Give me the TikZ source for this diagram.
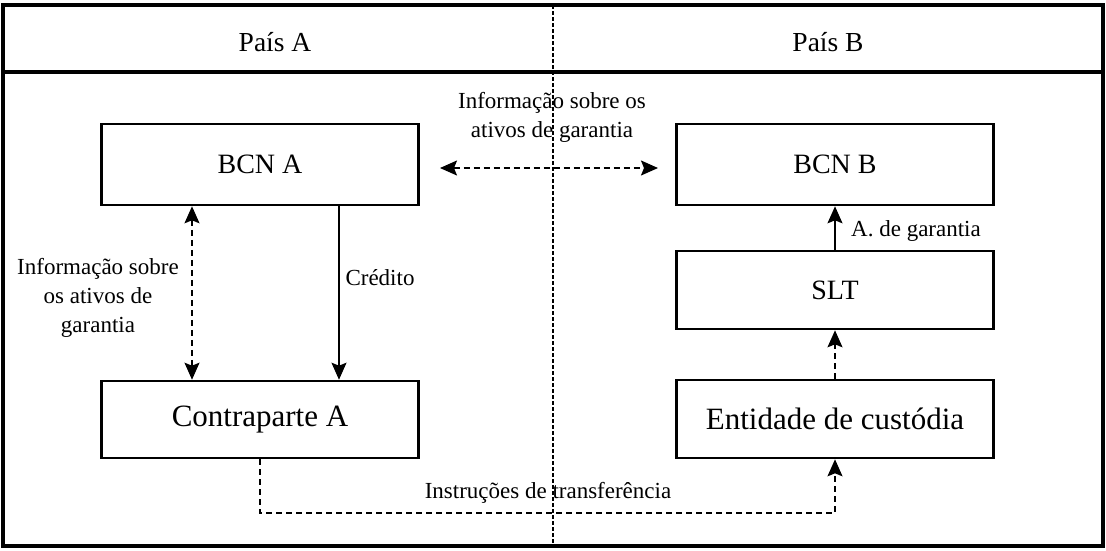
\documentclass[tikz,border=0pt]{standalone}
\usepackage{fontspec}
\setmainfont{Liberation Serif}
\usetikzlibrary{arrows.meta}
\begin{document}
\begin{tikzpicture}[x=1pt,y=-1pt,
  box/.style={draw,line width=2.6pt,rectangle,inner sep=0pt,minimum width=317pt,font=\fontsize{28}{32}\selectfont},
  bigbox/.style={box,font=\fontsize{31}{35}\selectfont},
  lbl/.style={align=center,inner sep=0pt,font=\fontsize{23}{29}\selectfont},
  hdr/.style={inner sep=0pt,font=\fontsize{27.5}{30}\selectfont},
  tip/.tip={Stealth[length=17pt,width=15pt,inset=3pt]},
  arr/.style={line width=1.6pt,-tip},
  dbl/.style={line width=1.6pt,tip-tip},
  dsh/.style={dash pattern=on 6pt off 4pt}]
\useasboundingbox (0,0) rectangle (1106,550);
% frame
\draw[line width=3.2pt] (3,5) rectangle (1103,546);
\draw[line width=3.2pt] (3,72) -- (1103,72);
\draw[line width=1.2pt,dash pattern=on 4pt off 2pt] (553,5) -- (553,546);
% headers
\node[hdr] (pa) at (275,42) {País A};
\node[hdr] (pb) at (828,42) {País B};
% boxes
\node[box,minimum height=81pt] (bcna) at (260,164.5) {BCN A};
\node[bigbox,minimum height=77pt] (cpa) at (260,419.5) {Contraparte A};
\node[box,minimum height=81pt] (bcnb) at (835,164.5) {BCN B};
\node[box,minimum height=78pt] (slt) at (835,290) {SLT};
\node[bigbox,minimum height=78pt] (ent) at (835,419) {Entidade de custódia};
% coordinates
\coordinate (x1) at (192,0);
\coordinate (x2) at (339,0);
\coordinate (ia) at (440,168);
\coordinate (ib) at (658,168);
\coordinate (c1) at (260,513);
\coordinate (c2) at (835,513);
% arrows
\draw[dbl,dsh] (bcna.south -| x1) -- (cpa.north -| x1);
\draw[arr] (bcna.south -| x2) -- (cpa.north -| x2);
\draw[dbl,dsh] (ia) -- (ib);
\draw[arr] (slt.north) -- (bcnb.south);
\draw[arr,dsh] (ent.north) -- (slt.south);
\draw[arr,dsh] (cpa.south -| c1) -- (c1) -- (c2) -- (ent.south);
% labels
\node[lbl] (l1) at (552,117) {Informação sobre os\\ativos de garantia};
\node[lbl] (l2) at (98,298) {Informação sobre\\os ativos de\\garantia};
\node[lbl] (l3) at (380,278) {Crédito};
\node[lbl] (l4) at (916,231) {A. de garantia};
\node[lbl] (l5) at (548,493) {Instruções de transferência};
\end{tikzpicture}
\end{document}
